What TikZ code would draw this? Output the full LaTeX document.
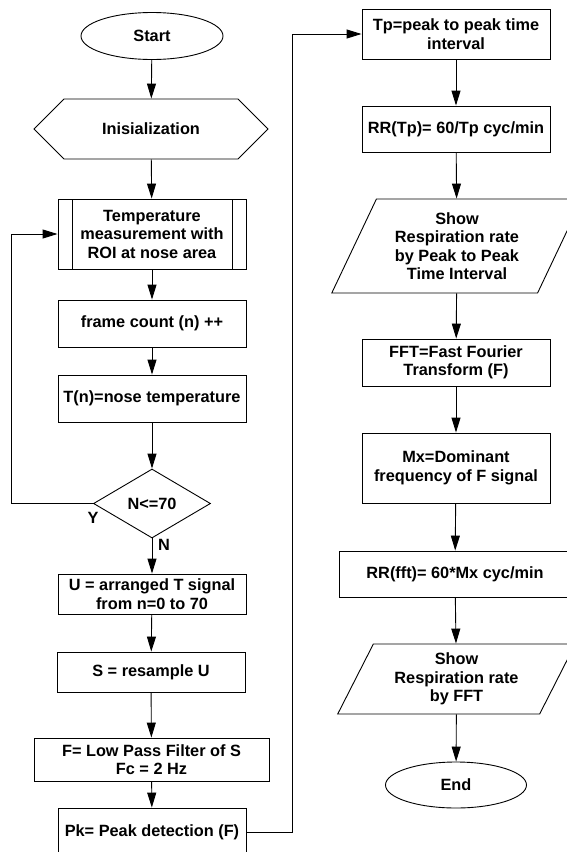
\documentclass[tikz,border=0pt]{standalone}
\usepackage{fontspec}
\setmainfont{Liberation Sans}
\usetikzlibrary{shapes.geometric,shapes.misc,arrows.meta}

\def\loopx{11}
\def\jumpx{292}

\begin{document}
\begin{tikzpicture}[x=1pt, y=-1pt, line width=0.9pt,
    nodes = {font=\bfseries\fontsize{16.3}{18.5}\selectfont, align=center, inner sep=0pt},
    box/.style = {draw, rectangle, minimum width=188pt},
    term/.style = {draw, ellipse, minimum width=142pt, minimum height=47pt},
    prep/.style = {draw, chamfered rectangle, chamfered rectangle xsep=24pt,
      chamfered rectangle ysep=24pt, minimum width=234pt, minimum height=48pt},
    subproc/.style = {box, path picture={
      \draw ([xshift=14pt]path picture bounding box.north west)
        -- ([xshift=14pt]path picture bounding box.south west);
      \draw ([xshift=-14pt]path picture bounding box.north east)
        -- ([xshift=-14pt]path picture bounding box.south east);}},
    decide/.style = {draw, diamond, minimum width=117pt, minimum height=69pt},
    io/.style = {draw, trapezium, trapezium left angle=63, trapezium right angle=117,
      trapezium stretches=true},
    flow/.style = {-{Triangle[length=15pt,width=9pt]}}]
  \useasboundingbox (0,0) rectangle (567,852);

  % Left column
  \node[term]  (start)  at (152,36)    {Start};
  \node[prep]  (init)   at (151,129)   {Inisialization};
  \node[subproc, minimum height=70pt] (meas) at (152,234)
    {Temperature\\measurement with\\ROI at nose area};
  \node[box, minimum height=47pt] (frame)  at (152,323.5) {frame count (n) ++};
  \node[box, minimum height=47pt] (tnose)  at (152,398.5) {T(n)=nose temperature};
  \node[decide] (cond)  at (152,503.5) {N<=70};
  \node[box, minimum height=40pt] (arrange) at (152,594) {U = arranged T signal\\from n=0 to 70};
  \node[box, minimum height=40pt] (resamp)  at (151,672) {S = resample U};
  \node[box, minimum height=43pt, minimum width=235pt] (lpf) at (151.5,759.5)
    {F= Low Pass Filter of S\\Fc = 2 Hz};
  \node[box, minimum height=48pt] (peak) at (152,832) {Pk= Peak detection (F)};
  \node (ylab) at (93,518) {Y};
  \node (nlab) at (164,545) {N};

  % Right column
  \node[box, minimum height=50pt] (tp)   at (456,34)  {Tp=peak to peak time\\interval};
  \node[box, minimum height=46pt] (rrtp) at (456,129) {RR(Tp)= 60/Tp cyc/min};
  \node[io, minimum width=251pt, minimum height=94pt] (showtp) at (457,246)
    {Show\\Respiration rate\\by Peak to Peak\\Time Interval};
  \node[box, minimum height=47pt] (fft)  at (456,362.5) {FFT=Fast Fourier\\Transform (F)};
  \node[box, minimum height=70pt] (mx)   at (456,468) {Mx=Dominant\\frequency of F signal};
  \node[box, minimum height=46pt, minimum width=232pt] (rrfft) at (455,574)
    {RR(fft)= 60*Mx cyc/min};
  \node[io, minimum width=238pt, minimum height=70pt] (showfft) at (456.5,679)
    {Show\\Respiration rate\\by FFT};
  \node[term, minimum width=141pt, minimum height=46pt] (end) at (456,785) {End};

  % Straight connectors
  \foreach \from/\to in {start/init, init/meas, meas/frame, frame/tnose, tnose/cond,
      cond/arrange, arrange/resamp, resamp/lpf, lpf/peak,
      tp/rrtp, rrtp/showtp, showtp/fft, fft/mx, mx/rrfft, rrfft/showfft, showfft/end}
    \draw[flow] (\from) -- (\to);

  % Loop back and jump to second column
  \coordinate (loop) at (\loopx,0);
  \coordinate (jump) at (\jumpx,0);
  \draw[flow] (cond.west) -- (cond.west -| loop) |- (meas.west);
  \draw[flow] (peak.east) -- (peak.east -| jump) |- (tp.west);
\end{tikzpicture}
\end{document}
